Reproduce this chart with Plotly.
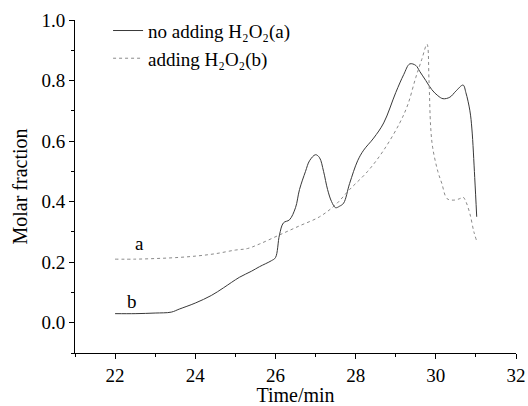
import plotly.graph_objects as go

# Series "no adding H2O2(a)" (solid line, lower start)
time_no_add = [22.0, 22.5, 23.0, 23.4, 23.6, 24.0, 24.4, 24.7, 25.1, 25.4, 25.6, 25.9, 26.0,
               26.1, 26.2, 26.35, 26.5, 26.6, 26.75, 26.85, 27.0, 27.1, 27.2, 27.3, 27.4,
               27.5, 27.6, 27.7, 27.85, 28.05, 28.2, 28.45, 28.7, 29.0, 29.2, 29.35, 29.5,
               29.6, 29.75, 29.9, 30.05, 30.18, 30.35, 30.5, 30.68, 30.75, 30.85, 30.9,
               30.97, 31.02]
frac_no_add = [0.03, 0.03, 0.032, 0.035, 0.045, 0.065, 0.09, 0.115, 0.15, 0.17, 0.185, 0.205, 0.215,
               0.29, 0.33, 0.34, 0.38, 0.44, 0.50, 0.535, 0.555, 0.545, 0.50, 0.44, 0.40,
               0.38, 0.385, 0.395, 0.46, 0.535, 0.57, 0.61, 0.66, 0.76, 0.82, 0.855, 0.85,
               0.83, 0.80, 0.77, 0.75, 0.74, 0.745, 0.765, 0.785, 0.76, 0.70, 0.64,
               0.48, 0.35]

# Series "adding H2O2(b)" (dotted line, upper start)
time_add = [22.0, 22.5, 23.0, 23.5, 24.0, 24.5, 25.0, 25.3, 25.6, 26.1, 26.6, 27.1, 27.5,
            27.85, 28.3, 28.7, 29.1, 29.3, 29.5, 29.65, 29.78, 29.83, 29.87, 29.92, 30.05,
            30.15, 30.28, 30.45, 30.6, 30.68, 30.75, 30.85, 30.95, 31.02]
frac_add = [0.21, 0.21, 0.212, 0.215, 0.22, 0.228, 0.24, 0.245, 0.26, 0.29, 0.32, 0.35, 0.39,
            0.44, 0.50, 0.57, 0.66, 0.72, 0.81, 0.87, 0.92, 0.80, 0.65, 0.58, 0.50,
            0.46, 0.41, 0.405, 0.41, 0.415, 0.40, 0.36, 0.30, 0.27]

x_ticks = [22, 24, 26, 28, 30, 32]
y_ticks = [0.0, 0.2, 0.4, 0.6, 0.8, 1.0]

FONT = "Liberation Serif, Times New Roman, serif"

fig = go.Figure()
fig.add_trace(go.Scatter(
    x=time_no_add, y=frac_no_add, mode="lines", line_shape="spline",
    name="no adding H₂O₂(a)",
    line=dict(color="#383838", width=1),
))
fig.add_trace(go.Scatter(
    x=time_add, y=frac_add, mode="lines", line_shape="spline",
    name="adding H₂O₂(b)",
    line=dict(color="#8a8a8a", width=1, dash="dot"),
))

fig.add_annotation(x=22.6, y=0.262, text="a", showarrow=False,
                   font=dict(family=FONT, size=19, color="black"))
fig.add_annotation(x=22.42, y=0.07, text="b", showarrow=False,
                   font=dict(family=FONT, size=19, color="black"))

axis_common = dict(
    showline=True, linecolor="black", linewidth=1, mirror=False,
    showgrid=False, zeroline=False, automargin=False,
    ticks="outside", ticklen=5, tickcolor="black", tickwidth=1,
    tickfont=dict(family=FONT, size=19, color="black"),
)

fig.update_layout(
    width=528, height=406,
    margin=dict(l=75, r=12, t=18, b=53),
    paper_bgcolor="white", plot_bgcolor="white",
    font=dict(family=FONT, size=19, color="black"),
    showlegend=True,
    legend=dict(x=0.075, y=1.025, xanchor="left", yanchor="top",
                bgcolor="rgba(0,0,0,0)", font=dict(family=FONT, size=19),
                tracegroupgap=0, itemwidth=30),
    xaxis=dict(range=[21, 32], tickvals=x_ticks,
               ticktext=[str(v) for v in x_ticks],
               minor=dict(dtick=1, ticklen=3, tickcolor="black", ticks="outside"),
               title=dict(text="Time/min", font=dict(family=FONT, size=20), standoff=0),
               **axis_common),
    yaxis=dict(range=[-0.1, 1.0], tickvals=y_ticks,
               ticktext=[f"{v:.1f}" for v in y_ticks],
               minor=dict(dtick=0.1, tick0=0, ticklen=3, tickcolor="black", ticks="outside"),
               title=dict(text="Molar fraction", font=dict(family=FONT, size=20), standoff=8),
               **axis_common),
)

fig.write_html("out.html",
               config={"displayModeBar": False},
               post_script="document.body.style.margin='0';document.body.style.overflow='hidden';")
